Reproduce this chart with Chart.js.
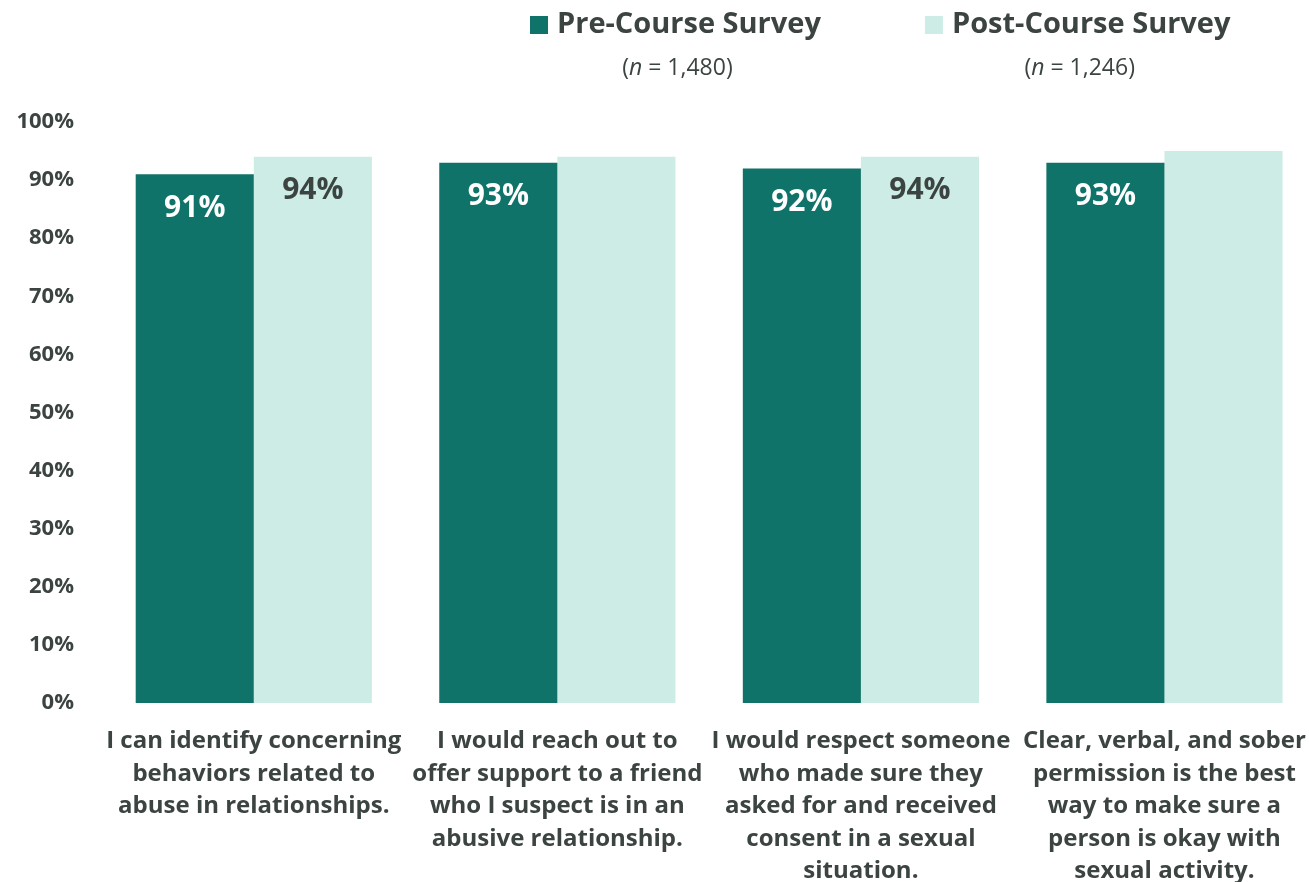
<!DOCTYPE html>
<html>
<head>
<meta charset="utf-8">
<script src="https://cdn.jsdelivr.net/npm/chart.js@4"></script>
<style>
  html, body { margin: 0; padding: 0; background: #ffffff; }
  #wrap { position: relative; width: 1309px; height: 882px; overflow: hidden; }
  #chart { position: absolute; left: 0; top: 0; }
</style>
</head>
<body>
<div id="wrap"><canvas id="chart" width="1320" height="882"></canvas></div>
<script>
// Survey statements (x-axis categories, one array per wrapped line)
const categories = [
  ["I can identify concerning", "behaviors related to", "abuse in relationships."],
  ["I would reach out to", "offer support to a friend", "who I suspect is in an", "abusive relationship."],
  ["I would respect someone", "who made sure they", "asked for and received", "consent in a sexual", "situation."],
  ["Clear, verbal, and sober", "permission is the best", "way to make sure a", "person is okay with", "sexual activity."]
];

// Percent agreeing, by survey
const preCourse = [91, 93, 92, 93];
const postCourse = [94, 94, 94, 95];

// Which bars carry a value label
const preLabelled = [true, true, true, true];
const postLabelled = [true, false, true, false];

// Series names and sample sizes
const seriesNames = ["Pre-Course Survey", "Post-Course Survey"];
const sampleSizes = ["1,480", "1,246"];

// Y-axis ticks
const yTicks = [0, 10, 20, 30, 40, 50, 60, 70, 80, 90, 100];

const PRE_COLOR = "#10736a";
const POST_COLOR = "#cdece6";
const TEXT_COLOR = "#3c4442";
const FONT = "'Open Sans', 'Noto Sans', sans-serif";

// Value labels just inside the top of each bar
const valueLabels = {
  id: "valueLabels",
  afterDatasetsDraw(chart) {
    const ctx = chart.ctx;
    const flags = [preLabelled, postLabelled];
    const colors = ["#ffffff", TEXT_COLOR];
    ctx.save();
    ctx.font = "bold 30px " + FONT;
    ctx.textAlign = "center";
    ctx.textBaseline = "middle";
    chart.data.datasets.forEach((ds, di) => {
      const meta = chart.getDatasetMeta(di);
      meta.data.forEach((bar, i) => {
        if (!flags[di][i]) return;
        ctx.fillStyle = colors[di];
        ctx.fillText(ds.data[i] + "%", bar.x, bar.y + 34);
      });
    });
    ctx.restore();
  }
};

// Legend with sample sizes beneath each entry
const topLegend = {
  id: "topLegend",
  afterDraw(chart) {
    const ctx = chart.ctx;
    const colors = [PRE_COLOR, POST_COLOR];
    const box = 18, gap = 9, spacing = 104;
    const nameFont = "bold 29px " + FONT;
    ctx.save();
    ctx.textBaseline = "middle";
    let x = 530;
    const cy = 25;
    seriesNames.forEach((name, i) => {
      ctx.font = nameFont;
      const tw = ctx.measureText(name).width;
      ctx.fillStyle = colors[i];
      ctx.fillRect(x, cy - box / 2, box, box);
      ctx.fillStyle = TEXT_COLOR;
      ctx.textAlign = "left";
      ctx.fillText(name, x + box + gap, cy);
      const center = x + (box + gap + tw) / 2 + 2;
      // "(n = …)" line
      const parts = [
        { t: "(", f: "23px " + FONT },
        { t: "n", f: "italic 23px " + FONT },
        { t: " = " + sampleSizes[i] + ")", f: "23px " + FONT }
      ];
      let total = 0;
      parts.forEach(p => { ctx.font = p.f; p.w = ctx.measureText(p.t).width; total += p.w; });
      let px = center - total / 2;
      parts.forEach(p => { ctx.font = p.f; ctx.fillText(p.t, px, 68); px += p.w; });
      x += box + gap + tw + spacing;
    });
    ctx.restore();
  }
};

new Chart(document.getElementById("chart"), {
  type: "bar",
  data: {
    labels: categories,
    datasets: [
      { label: seriesNames[0], data: preCourse, backgroundColor: PRE_COLOR },
      { label: seriesNames[1], data: postCourse, backgroundColor: POST_COLOR }
    ]
  },
  options: {
    responsive: false,
    animation: false,
    devicePixelRatio: 1,
    layout: { padding: { top: 122, left: 0, right: 1, bottom: 0 } },
    categoryPercentage: 0.778,
    barPercentage: 1.0,
    plugins: {
      legend: { display: false },
      tooltip: { enabled: false }
    },
    scales: {
      x: {
        grid: { display: false },
        border: { display: false },
        ticks: {
          color: TEXT_COLOR,
          font: { family: FONT, size: 24, weight: "bold", lineHeight: 1.354 },
          padding: 14,
          maxRotation: 0,
          autoSkip: false
        },
        afterFit(scale) { scale.height = 179; }
      },
      y: {
        min: 0,
        max: 100,
        grid: { display: false },
        border: { display: false },
        afterBuildTicks(scale) { scale.ticks = yTicks.map(v => ({ value: v })); },
        ticks: {
          color: TEXT_COLOR,
          font: { family: FONT, size: 22, weight: "bold" },
          padding: 20,
          callback: v => v + "%"
        },
        afterFit(scale) { scale.width = 102; }
      }
    }
  },
  plugins: [valueLabels, topLegend]
});
</script>
</body>
</html>
